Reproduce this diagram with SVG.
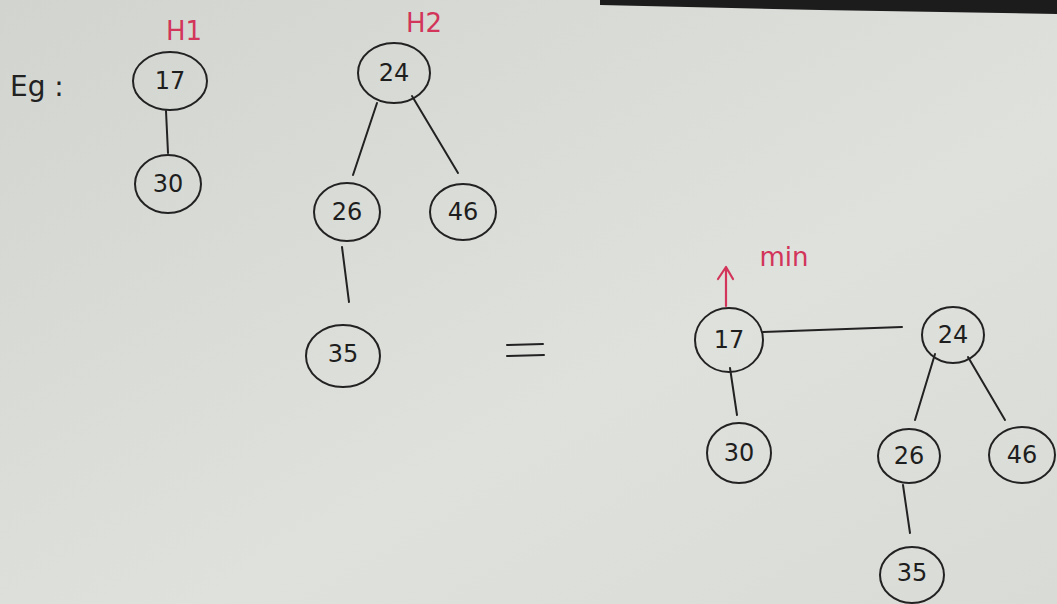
<svg xmlns="http://www.w3.org/2000/svg" width="1057" height="604" viewBox="0 0 1057 604">
<defs>
<linearGradient id="paper" x1="0" y1="0" x2="1" y2="1">
<stop offset="0" stop-color="#d2d5cf"/>
<stop offset="0.6" stop-color="#dfe1dc"/>
<stop offset="1" stop-color="#d9dbd6"/>
</linearGradient>
<marker id="arr" viewBox="0 0 12 12" refX="6" refY="1" markerWidth="14" markerHeight="14" orient="auto" markerUnits="userSpaceOnUse">
<path d="M1,9 L6,1 L11,9" fill="none" stroke="#d2345a" stroke-width="2"/>
</marker>
<style>
.n ellipse{fill:none;stroke:#222;stroke-width:2}
.n text{font-family:"DejaVu Sans","Liberation Sans",sans-serif;font-size:24px;fill:#1e1e1e;text-anchor:middle;dominant-baseline:central}
.e line{stroke:#222;stroke-width:2;stroke-linecap:round}
.red{font-family:"DejaVu Sans","Liberation Sans",sans-serif;fill:#d2345a;font-size:26px;text-anchor:middle}
.lbl{font-family:"DejaVu Sans","Liberation Sans",sans-serif;fill:#222;font-size:28px}
</style>
</defs>
<rect width="1057" height="604" fill="url(#paper)"/>
<polygon points="600,0 1057,0 1057,14 820,10 600,5" fill="#1c1c1c"/>

<text class="lbl" x="10" y="96">Eg :</text>
<text class="red" x="184" y="40">H1</text>
<text class="red" x="424" y="32">H2</text>
<text class="red" x="784" y="266" font-size="28">min</text>
<path d="M726,306 L726,268 M718,279 L726,267 L733,279" fill="none" stroke="#d2345a" stroke-width="2.2" stroke-linecap="round" stroke-linejoin="round"/>

<g id="edges" class="e">
<line x1="166" y1="111" x2="168" y2="153"/>
<line x1="377" y1="103" x2="353" y2="175"/>
<line x1="412" y1="96" x2="458" y2="173"/>
<line x1="342" y1="247" x2="349" y2="302"/>
<line x1="730" y1="368" x2="737" y2="415"/>
<line x1="763" y1="332" x2="902" y2="327"/>
<line x1="935" y1="354" x2="915" y2="420"/>
<line x1="968" y1="357" x2="1005" y2="420"/>
<line x1="903" y1="485" x2="910" y2="533"/>
<line x1="507" y1="345" x2="543" y2="344" stroke-width="2.5"/>
<line x1="507" y1="356" x2="544" y2="355" stroke-width="2.5"/>
</g>

<g id="h1-17" class="n"><ellipse cx="170" cy="81" rx="37" ry="29"/><text x="170" y="81">17</text></g>
<g id="h1-30" class="n"><ellipse cx="168" cy="184" rx="33" ry="29"/><text x="168" y="184">30</text></g>
<g id="h2-24" class="n"><ellipse cx="394" cy="73" rx="36" ry="30"/><text x="394" y="73">24</text></g>
<g id="h2-26" class="n"><ellipse cx="347" cy="212" rx="33" ry="29"/><text x="347" y="212">26</text></g>
<g id="h2-46" class="n"><ellipse cx="463" cy="212" rx="33" ry="28"/><text x="463" y="212">46</text></g>
<g id="h2-35" class="n"><ellipse cx="343" cy="356" rx="37" ry="31"/><text x="343" y="354">35</text></g>

<g id="r-17" class="n"><ellipse cx="729" cy="340" rx="34" ry="32"/><text x="729" y="340">17</text></g>
<g id="r-30" class="n"><ellipse cx="739" cy="453" rx="32" ry="30"/><text x="739" y="453">30</text></g>
<g id="r-24" class="n"><ellipse cx="953" cy="335" rx="31" ry="28"/><text x="953" y="335">24</text></g>
<g id="r-26" class="n"><ellipse cx="909" cy="456" rx="31" ry="27"/><text x="909" y="456">26</text></g>
<g id="r-46" class="n"><ellipse cx="1022" cy="455" rx="33" ry="28"/><text x="1022" y="455">46</text></g>
<g id="r-35" class="n"><ellipse cx="912" cy="575" rx="32" ry="28"/><text x="912" y="573">35</text></g>
</svg>
